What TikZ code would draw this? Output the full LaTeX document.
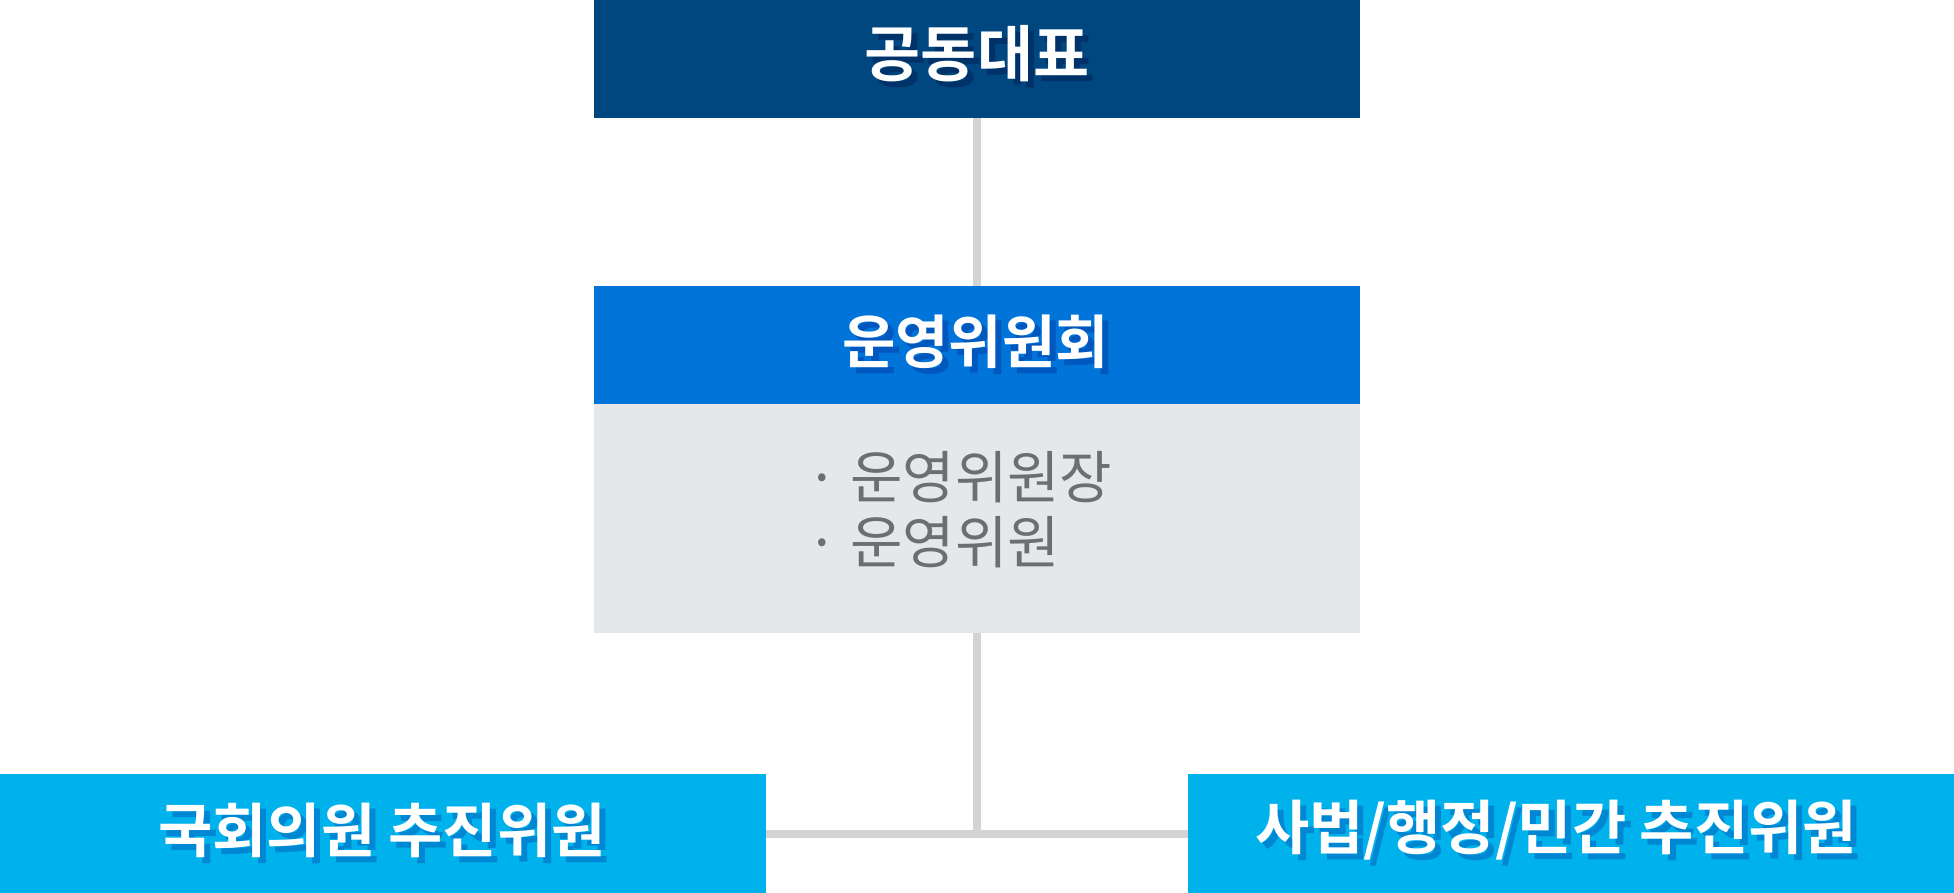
\documentclass[tikz,border=0pt]{standalone}
\usepackage{fontspec}
\setmainfont{Noto Sans CJK KR}
\newfontfamily\krbold{Noto Sans CJK KR Bold}
\newfontfamily\krreg{Noto Sans CJK KR}
\definecolor{topblue}{HTML}{00467F}
\definecolor{topshadow}{HTML}{00326A}
\definecolor{midblue}{HTML}{0074D9}
\definecolor{midshadow}{HTML}{0057BE}
\definecolor{botblue}{HTML}{00B2EB}
\definecolor{botshadow}{HTML}{0087D3}
\definecolor{panelgrey}{HTML}{E6E7E9}
\definecolor{itemgrey}{HTML}{6D6E70}
\definecolor{linegrey}{HTML}{D1D3D4}
\newcommand{\shtext}[2]{\rlap{\kern6pt\raisebox{-6pt}{\textcolor{#1}{#2}}}\textcolor{white}{#2}}
\begin{document}
\begin{tikzpicture}[x=1pt,y=-1pt,
  boxbase/.style={rectangle,inner sep=0pt,outer sep=0pt,draw=none},
  topfont/.style={font=\krbold\fontsize{61}{66}\selectfont},
  midfont/.style={font=\krbold\fontsize{58}{64}\selectfont},
  botfont/.style={font=\krbold\fontsize{59}{64}\selectfont},
  connector/.style={draw=linegrey,line width=8pt},
  itemtext/.style={inner sep=0pt,anchor=base west,text=itemgrey,
     font=\krreg\fontsize{57}{62}\selectfont}]
\useasboundingbox (0,0) rectangle (1954,893);
\fill[white] (0,0) rectangle (1954,893);
% boxes
\node[boxbase,topfont,fill=topblue,minimum width=766pt,minimum height=118pt] (top) at (976.5,59) {};
\node[inner sep=0pt,topfont] (toplabel) at (977,57) {\shtext{topshadow}{공동대표}};
\node[boxbase,midfont,fill=midblue,minimum width=766pt,minimum height=118pt] (head) at (976.5,345) {};
\node[inner sep=0pt,midfont] (headlabel) at (975.5,344.5) {\shtext{midshadow}{운영위원회}};
\node[boxbase,fill=panelgrey,minimum width=766pt,minimum height=229pt,anchor=north] (panel) at (head.south) {};
\node[boxbase,fill=botblue,minimum width=766pt,minimum height=119pt] (left) at (383,833.5) {};
\node[inner sep=0pt,botfont] (leftlabel) at (382,833.5) {\shtext{botshadow}{국회의원 추진위원}};
\node[boxbase,fill=botblue,minimum width=766pt,minimum height=119pt] (right) at (1571,833.5) {};
\node[inner sep=0pt,botfont] (rightlabel) at (1556,833.5) {\shtext{botshadow}{사법/행정/민간 추진위원}};
% items
\node[itemtext] (item1) at (806,498) {·\hspace{12pt}운영위원장};
\node[itemtext] (item2) at (806,563) {·\hspace{12pt}운영위원};
% connectors
\coordinate (junction) at (panel.south |- left.east);
\draw[connector] (top.south) -- (head.north);
\draw[connector] (panel.south) -- (junction);
\draw[connector] (left.east) -- (right.west);
\end{tikzpicture}
\end{document}
